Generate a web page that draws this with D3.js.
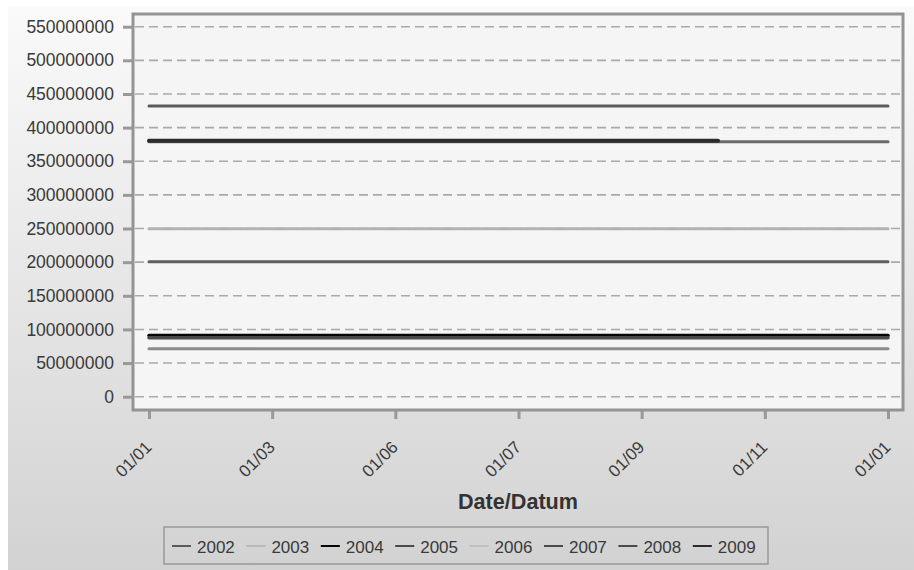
<!DOCTYPE html>
<html>
<head>
<meta charset="utf-8">
<script src="https://cdn.jsdelivr.net/npm/d3@7"></script>
<style>
  html, body { margin: 0; padding: 0; background: #ffffff; }
  svg { display: block; }
</style>
</head>
<body>
<svg id="chart" width="914" height="570"></svg>
<script>
// ---- data ----
const xTickLabels = ["01/01", "01/03", "01/06", "01/07", "01/09", "01/11", "01/01"];
const yTickValues = [0, 50000000, 100000000, 150000000, 200000000, 250000000, 300000000, 350000000, 400000000, 450000000, 500000000, 550000000];
const years = ["2002", "2003", "2004", "2005", "2006", "2007", "2008", "2009"];
const seriesColors = ["#5a5a5a", "#b2b2b2", "#050505", "#5e5e5e", "#8c8c8c", "#4a4a4a", "#6a6a6a", "#2c2c2c"];
const legendColors = ["#5a5a5a", "#b8b8b8", "#050505", "#4a4a4a", "#c0c0c0", "#4a4a4a", "#4a4a4a", "#2c2c2c"];
// x = position along the date axis (tick index), value = amount
const x2002 = [0, 6], v2002 = [432000000, 432000000];
const x2003 = [0, 6], v2003 = [249500000, 249500000];
const x2004 = [0, 6], v2004 = [91000000, 91000000];
const x2005 = [0, 6], v2005 = [200500000, 200500000];
const x2006 = [0, 6], v2006 = [71300000, 71300000];
const x2007 = [0, 6], v2007 = [87500000, 87500000];
const x2008 = [0, 6], v2008 = [379000000, 379000000];
const x2009 = [0, 4.62], v2009 = [380500000, 380500000];
const seriesX = [x2002, x2003, x2004, x2005, x2006, x2007, x2008, x2009];
const seriesV = [v2002, v2003, v2004, v2005, v2006, v2007, v2008, v2009];
const seriesWidth = [3, 3, 3.5, 3, 3, 3.5, 3, 4];

// ---- layout ----
const svg = d3.select("#chart");
const W = 914, H = 570;
const frame = { left: 133, right: 903, top: 14, bottom: 410 };

const defs = svg.append("defs");
const grad = defs.append("linearGradient").attr("id", "bg").attr("x1", 0).attr("y1", 0).attr("x2", 0).attr("y2", 1);
grad.append("stop").attr("offset", "0%").attr("stop-color", "#fafafa");
grad.append("stop").attr("offset", "100%").attr("stop-color", "#d2d2d2");

svg.append("rect").attr("x", 8).attr("y", 6).attr("width", W - 8).attr("height", H - 6).attr("fill", "url(#bg)");

const x = d3.scaleLinear().domain([0, xTickLabels.length - 1]).range([149, 888]);
const y = d3.scaleLinear().domain([0, 550000000]).range([396.7, 26.7]);

// plot background
svg.append("rect")
  .attr("x", frame.left).attr("y", frame.top)
  .attr("width", frame.right - frame.left).attr("height", frame.bottom - frame.top)
  .attr("fill", "#f5f5f5");

// grid
svg.append("g").selectAll("line").data(yTickValues).join("line")
  .attr("x1", frame.left + 2).attr("x2", frame.right - 2)
  .attr("y1", d => y(d)).attr("y2", d => y(d))
  .attr("stroke", "#a9a9a9").attr("stroke-width", 1.6)
  .attr("stroke-dasharray", "9,5");

// y axis
const yAxis = d3.axisLeft(y).tickValues(yTickValues).tickSize(10).tickPadding(9).tickFormat(d3.format("d"));
const gy = svg.append("g").attr("transform", `translate(${frame.left},0)`).call(yAxis);
gy.select(".domain").remove();
gy.selectAll(".tick line").attr("stroke", "#999").attr("stroke-width", 3);
gy.selectAll(".tick text").attr("fill", "#3a3a3a")
  .style("font-family", "'Liberation Sans', Arial, sans-serif").style("font-size", "17.5px");

// x axis
const xAxis = d3.axisBottom(x).tickValues(d3.range(xTickLabels.length)).tickSize(9).tickFormat(i => xTickLabels[i]);
const gx = svg.append("g").attr("transform", `translate(0,${frame.bottom})`).call(xAxis);
gx.select(".domain").remove();
gx.selectAll(".tick line").attr("stroke", "#999").attr("stroke-width", 3);
gx.selectAll(".tick text").attr("fill", "#3a3a3a")
  .style("font-family", "'Liberation Sans', Arial, sans-serif").style("font-size", "17px")
  .attr("text-anchor", "end")
  .attr("transform", "translate(-1,34) rotate(-45)")
  .attr("dy", "0.35em").attr("y", 0).attr("x", 0);

// frame border
svg.append("rect")
  .attr("x", frame.left).attr("y", frame.top)
  .attr("width", frame.right - frame.left).attr("height", frame.bottom - frame.top)
  .attr("fill", "none").attr("stroke", "#949494").attr("stroke-width", 3);

// lines
const line = d3.line().x(d => x(d[0])).y(d => y(d[1]));
years.forEach((yr, i) => {
  const pts = seriesX[i].map((xv, j) => [xv, seriesV[i][j]]);
  svg.append("path").datum(pts)
    .attr("d", line).attr("fill", "none")
    .attr("stroke", seriesColors[i]).attr("stroke-width", seriesWidth[i])
    .attr("stroke-linecap", "round");
});

// axis title
svg.append("text")
  .attr("x", (frame.left + frame.right) / 2).attr("y", 509)
  .attr("text-anchor", "middle")
  .attr("fill", "#333")
  .attr("textLength", 120).attr("lengthAdjust", "spacingAndGlyphs")
  .style("font-family", "'Liberation Sans', Arial, sans-serif")
  .style("font-weight", "bold").style("font-size", "22px")
  .text("Date/Datum");

// legend
const legX = 164, legY = 527, legW = 604, legH = 37;
svg.append("rect").attr("x", legX).attr("y", legY).attr("width", legW).attr("height", legH)
  .attr("fill", "none").attr("stroke", "#999").attr("stroke-width", 1.5);
const legItem = svg.append("g").selectAll("g").data(years).join("g")
  .attr("transform", (d, i) => `translate(${172 + i * 74.4},546)`);
legItem.append("line").attr("x1", 0).attr("x2", 19).attr("y1", 0).attr("y2", 0)
  .attr("stroke", (d, i) => legendColors[i]).attr("stroke-width", 2);
legItem.append("text").attr("x", 25).attr("y", 6.5)
  .attr("fill", "#3a3a3a")
  .style("font-family", "'Liberation Sans', Arial, sans-serif").style("font-size", "17px")
  .text(d => d);
</script>
</body>
</html>
